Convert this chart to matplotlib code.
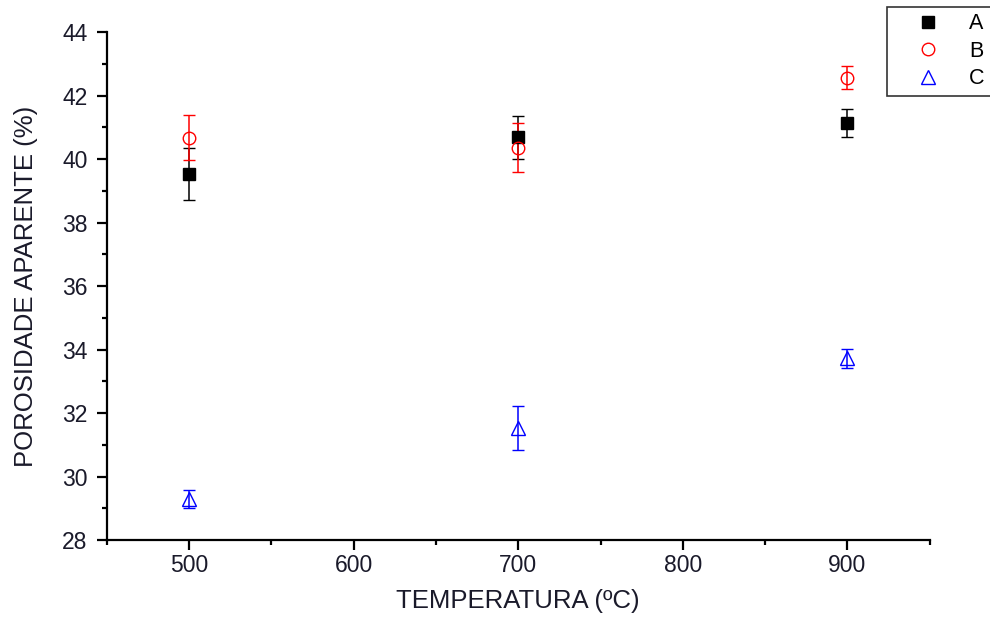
import matplotlib
matplotlib.use("Agg")
import matplotlib.pyplot as plt
from matplotlib.ticker import MultipleLocator

plt.rcParams['font.family'] = ['Liberation Sans', 'DejaVu Sans']

temperatures = [500, 700, 900]
series_names = ["A", "B", "C"]
porosity_a = [39.53, 40.69, 41.13]
error_a = [0.82, 0.68, 0.45]
porosity_b = [40.67, 40.36, 42.56]
error_b = [0.71, 0.78, 0.37]
porosity_c = [29.29, 31.53, 33.72]
error_c = [0.28, 0.69, 0.29]

fig = plt.figure(figsize=(9.9, 6.17), dpi=100)
ax = fig.add_axes([0.108, 0.1248, 0.831, 0.8233])

styles = [
    dict(marker='s', color='black', mfc='black', ms=8.5),
    dict(marker='o', color='red', mfc='none', ms=9),
    dict(marker='^', color='blue', mfc='none', ms=10),
]
handles = []
for name, vals, errs, st in zip(series_names,
                                [porosity_a, porosity_b, porosity_c],
                                [error_a, error_b, error_c], styles):
    ax.errorbar(temperatures, vals, yerr=errs, fmt=st['marker'],
                color=st['color'], mfc=st['mfc'], mec=st['color'],
                ms=st['ms'], mew=1.0, elinewidth=1.1, capsize=4.5,
                capthick=1.1, label=name)
    h, = ax.plot([], [], linestyle='none', marker=st['marker'],
                 color=st['color'], mfc=st['mfc'], mec=st['color'],
                 ms=st['ms'], mew=1.0)
    handles.append(h)

ax.set_xlim(450, 950)
ax.set_ylim(28, 44)
ax.xaxis.set_major_locator(MultipleLocator(100))
ax.xaxis.set_minor_locator(MultipleLocator(50))
ax.yaxis.set_major_locator(MultipleLocator(2))
ax.yaxis.set_minor_locator(MultipleLocator(1))

for side in ('top', 'right'):
    ax.spines[side].set_visible(False)
for side in ('left', 'bottom'):
    ax.spines[side].set_linewidth(1.6)

text_color = '#1a1a2a'
ax.tick_params(which='major', direction='out', length=7, width=1.6,
               labelsize=16.5, colors='black', labelcolor=text_color)
ax.tick_params(which='minor', direction='out', length=3.5, width=1.6)
ax.tick_params(axis='x', which='major', pad=3)
ax.tick_params(axis='y', which='major', pad=7)

ax.set_xlabel("TEMPERATURA (ºC)", fontsize=18.5, color=text_color, labelpad=9)
ax.set_ylabel("POROSIDADE APARENTE (%)", fontsize=18.5, color=text_color, labelpad=17)

leg = fig.legend(handles, series_names, loc='upper left',
                 bbox_to_anchor=(887 / 990, 1 - 7 / 617),
                 frameon=True, fancybox=False, fontsize=15.5,
                 handletextpad=0.25, labelspacing=0.3, borderpad=0.3,
                 handlelength=3.25, borderaxespad=0)
leg.get_frame().set_edgecolor('black')
leg.get_frame().set_linewidth(1.2)

fig.savefig("out.png", dpi=100)
